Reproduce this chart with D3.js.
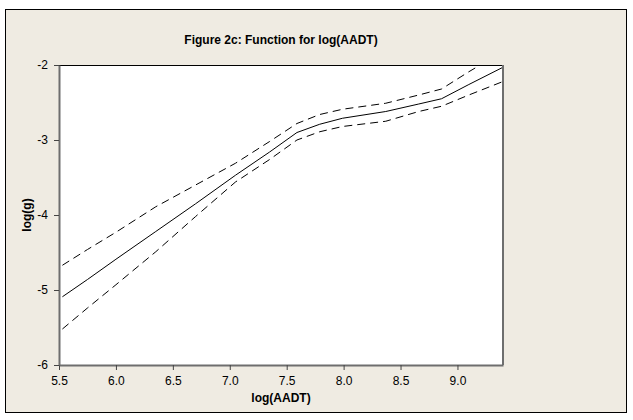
<!DOCTYPE html>
<html>
<head>
<meta charset="utf-8">
<script src="https://cdn.jsdelivr.net/npm/d3@7"></script>
<style>
  body { margin: 0; background: #fff; }
  svg { display: block; font-family: "Liberation Sans", Arial, sans-serif; }
</style>
</head>
<body>
<svg id="chart"></svg>
<script>
const width = 633;
const height = 420;

// fitted function and its confidence band
const xFit = [5.53, 5.75, 6.0, 6.35, 6.7, 7.05, 7.35, 7.59, 7.79, 7.99, 8.37, 8.66, 8.86, 9.1, 9.4];
const yFit = [-5.09, -4.86, -4.59, -4.22, -3.85, -3.47, -3.16, -2.90, -2.79, -2.71, -2.62, -2.52, -2.45, -2.26, -2.03];
const yUpper = [-4.67, -4.46, -4.23, -3.89, -3.60, -3.31, -3.02, -2.78, -2.66, -2.59, -2.51, -2.40, -2.32, -2.09, -1.82];
const yLower = [-5.52, -5.24, -4.93, -4.49, -4.02, -3.56, -3.26, -3.00, -2.89, -2.82, -2.75, -2.62, -2.55, -2.40, -2.22];

const xTicks = [5.5, 6.0, 6.5, 7.0, 7.5, 8.0, 8.5, 9.0];
const yTicks = [-2, -3, -4, -5, -6];

const margin = { top: 65, right: 130, bottom: 55, left: 59 };

let svg = d3.select("#chart")
  .attr("width", width)
  .attr("height", height);

// beige frame
svg.append("rect")
  .attr("x", 5.5).attr("y", 9.5)
  .attr("width", 621).attr("height", 403)
  .attr("fill", "#efebe2")
  .attr("stroke", "#000");

const x = d3.scaleLinear()
  .domain([5.5, 9.4])
  .range([margin.left, width - margin.right]);

const y = d3.scaleLinear()
  .domain([-6, -2])
  .range([height - margin.bottom, margin.top]);

const x0 = x.range()[0], x1 = x.range()[1];
const yTop = y.range()[1], yBot = y.range()[0];

svg.append("clipPath").attr("id", "plotclip")
  .append("rect")
  .attr("x", x0).attr("y", yTop)
  .attr("width", x1 - x0)
  .attr("height", yBot - yTop);

// plot area
svg.append("rect")
  .attr("x", x0).attr("y", yTop)
  .attr("width", x1 - x0)
  .attr("height", yBot - yTop)
  .attr("fill", "#fff");

const line = d3.line()
  .x(d => x(d[0]))
  .y(d => y(d[1]));

const g = svg.append("g").attr("clip-path", "url(#plotclip)");

[yUpper, yLower].forEach(band => {
  g.append("path")
    .datum(xFit.map((v, i) => [v, band[i]]))
    .attr("d", line)
    .attr("fill", "none")
    .attr("stroke", "#000")
    .attr("stroke-width", 1)
    .attr("stroke-dasharray", "8,5");
});

g.append("path")
  .datum(xFit.map((v, i) => [v, yFit[i]]))
  .attr("d", line)
  .attr("fill", "none")
  .attr("stroke", "#000")
  .attr("stroke-width", 1);

// top and right border
svg.append("line")
  .attr("x1", x0).attr("x2", x1)
  .attr("y1", yTop + 0.5).attr("y2", yTop + 0.5)
  .attr("stroke", "#000");
svg.append("line")
  .attr("x1", x1).attr("x2", x1)
  .attr("y1", yTop).attr("y2", yBot)
  .attr("stroke", "#6e6e6e")
  .attr("stroke-width", 2);

// x axis
const xAxis = svg.append("g")
  .attr("transform", `translate(0, ${yBot})`)
  .call(d3.axisBottom(x).tickValues(xTicks).tickFormat(d3.format(".1f")).tickSize(5).tickSizeOuter(0).tickPadding(6));
xAxis.select(".domain").attr("stroke", "#6e6e6e").attr("stroke-width", 2);
xAxis.selectAll(".tick line").attr("stroke", "#444");
xAxis.selectAll("text").attr("font-size", "12px").attr("fill", "#000");

// y axis
const yAxis = svg.append("g")
  .attr("transform", `translate(${x0}, 0)`)
  .call(d3.axisLeft(y).tickValues(yTicks).tickFormat(d => String(d)).tickSize(5).tickSizeOuter(0).tickPadding(6));
yAxis.select(".domain").attr("stroke", "#6e6e6e").attr("stroke-width", 2);
yAxis.selectAll(".tick line").attr("stroke", "#444");
yAxis.selectAll("text").attr("font-size", "12px").attr("fill", "#000");

// title
svg.append("text")
  .attr("x", (x0 + x1) / 2)
  .attr("y", 44)
  .attr("text-anchor", "middle")
  .attr("font-size", "12px")
  .attr("font-weight", "bold")
  .text("Figure 2c: Function for log(AADT)");

// axis labels
svg.append("text")
  .attr("x", (x0 + x1) / 2)
  .attr("y", 402)
  .attr("text-anchor", "middle")
  .attr("font-size", "12px")
  .attr("font-weight", "bold")
  .text("log(AADT)");

svg.append("text")
  .attr("transform", `translate(31, ${(yTop + yBot) / 2}) rotate(-90)`)
  .attr("text-anchor", "middle")
  .attr("font-size", "12px")
  .attr("font-weight", "bold")
  .text("log(g)");
</script>
</body>
</html>
